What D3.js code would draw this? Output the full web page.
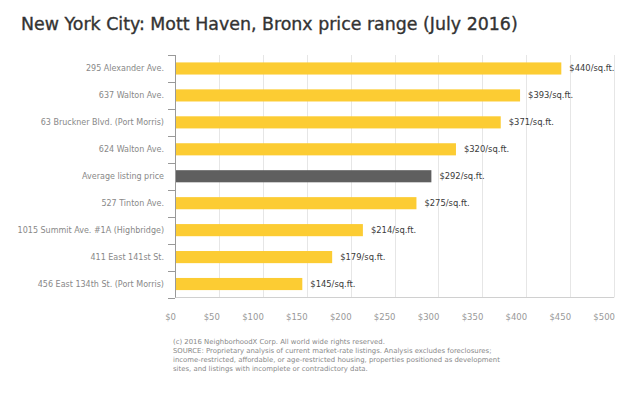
<!DOCTYPE html>
<html>
<head>
<meta charset="utf-8">
<script src="https://cdn.jsdelivr.net/npm/d3@7"></script>
<style>
  body { margin: 0; background: #fff; }
  svg { display: block; font-family: 'DejaVu Sans', sans-serif; }
</style>
</head>
<body>
<div id="graphic"></div>
<script>
'use strict';

const categories = [
  `295 Alexander Ave.`,
  `637 Walton Ave.`,
  `63 Bruckner Blvd. (Port Morris)`,
  `624 Walton Ave.`,
  `Average listing price`,
  `527 Tinton Ave.`,
  `1015 Summit Ave. #1A (Highbridge)`,
  `411 East 141st St.`,
  `456 East 134th St. (Port Morris)`
];
const prices = [440, 393, 371, 320, 292, 275, 214, 179, 145];
const xTicks = [0, 50, 100, 150, 200, 250, 300, 350, 400, 450, 500];
const title = `New York City: Mott Haven, Bronx price range (July 2016)`;
const footnote = [
  `(c) 2016 NeighborhoodX Corp. All world wide rights reserved.`,
  `SOURCE: Proprietary analysis of current market-rate listings. Analysis excludes foreclosures;`,
  `income-restricted, affordable, or age-restricted housing, properties positioned as development`,
  `sites, and listings with incomplete or contradictory data.`
];

(function (d3) {
  const width = 620;
  const height = 413;
  const margin = { top: 55, right: 6, bottom: 115, left: 175 };

  const data = categories.map((c, i) => ({ label: c, value: prices[i], average: c === `Average listing price` }));

  const svg = d3.select(`div#graphic`).append(`svg`).attr(`width`, width).attr(`height`, height);

  const x = d3.scaleLinear().domain([0, 500]).range([margin.left, 614]);
  const y = d3
    .scaleBand()
    .domain(categories)
    .range([margin.top, height - margin.bottom - 0.5])
    .paddingInner(0.55)
    .paddingOuter(0.275);

  // Title
  svg
    .append(`text`)
    .attr(`x`, 21)
    .attr(`y`, 30)
    .attr(`fill`, `#333`)
    .attr(`stroke`, `#333`)
    .attr(`stroke-width`, 0.35)
    .attr(`font-size`, 17.4)
    .text(title);

  // Grid lines
  svg
    .append(`g`)
    .selectAll(`line`)
    .data(xTicks.slice(1))
    .join(`line`)
    .attr(`x1`, (d) => Math.round(x(d)) + 0.5)
    .attr(`x2`, (d) => Math.round(x(d)) + 0.5)
    .attr(`y1`, y.range()[0])
    .attr(`y2`, y.range()[1])
    .attr(`stroke`, `#e6e6e6`)
    .attr(`stroke-width`, 1);

  // Bottom line
  svg
    .append(`line`)
    .attr(`x1`, x(0))
    .attr(`x2`, x(500))
    .attr(`y1`, y.range()[1])
    .attr(`y2`, y.range()[1])
    .attr(`stroke`, `#d0d0d0`);

  // Tick labels on x
  svg
    .append(`g`)
    .attr(`font-size`, 8.5)
    .attr(`fill`, `#999`)
    .attr(`text-anchor`, `end`)
    .selectAll(`text`)
    .data(xTicks)
    .join(`text`)
    .attr(`x`, (d) => x(d) + 1)
    .attr(`y`, 320)
    .text((d) => `$${d}`);

  // Bars
  svg
    .append(`g`)
    .selectAll(`rect`)
    .data(data)
    .join(`rect`)
    .attr(`x`, x(0) + 1)
    .attr(`y`, (d) => y(d.label))
    .attr(`width`, (d) => x(d.value) - x(0) - 1)
    .attr(`height`, y.bandwidth())
    .attr(`fill`, (d) => (d.average ? `#5f5f5f` : `#fccc33`));

  // Value labels
  svg
    .append(`g`)
    .attr(`font-size`, 8.4)
    .attr(`fill`, `#3a3a3a`)
    .selectAll(`text`)
    .data(data)
    .join(`text`)
    .attr(`x`, (d) => x(d.value) + 8)
    .attr(`y`, (d) => y(d.label) + y.bandwidth() / 2)
    .attr(`dy`, `0.35em`)
    .text((d) => `$${d.value}/sq.ft.`);

  // Y axis (ticks at band boundaries)
  const yAxis = svg.append(`g`).attr(`stroke`, `#999`);
  yAxis
    .append(`line`)
    .attr(`x1`, x(0) + 0.5)
    .attr(`x2`, x(0) + 0.5)
    .attr(`y1`, y.range()[0])
    .attr(`y2`, y.range()[1]);
  const bounds = d3.range(categories.length + 1).map((i) => y.range()[0] + i * y.step());
  yAxis
    .selectAll(`line.tick`)
    .data(bounds)
    .join(`line`)
    .attr(`class`, `tick`)
    .attr(`x1`, x(0) - 7)
    .attr(`x2`, x(0))
    .attr(`y1`, (d) => Math.round(d) + 0.5)
    .attr(`y2`, (d) => Math.round(d) + 0.5);

  svg
    .append(`g`)
    .attr(`font-size`, 8)
    .attr(`fill`, `#888`)
    .attr(`text-anchor`, `end`)
    .selectAll(`text`)
    .data(data)
    .join(`text`)
    .attr(`x`, x(0) - 11)
    .attr(`y`, (d) => y(d.label) + y.bandwidth() / 2)
    .attr(`dy`, `0.35em`)
    .text((d) => d.label);

  // Footnote
  svg
    .append(`g`)
    .attr(`font-size`, 6.9)
    .attr(`fill`, `#888`)
    .selectAll(`text`)
    .data(footnote)
    .join(`text`)
    .attr(`x`, 173)
    .attr(`y`, (d, i) => 344 + i * 9)
    .text((d) => d);
})(d3);
</script>
</body>
</html>
